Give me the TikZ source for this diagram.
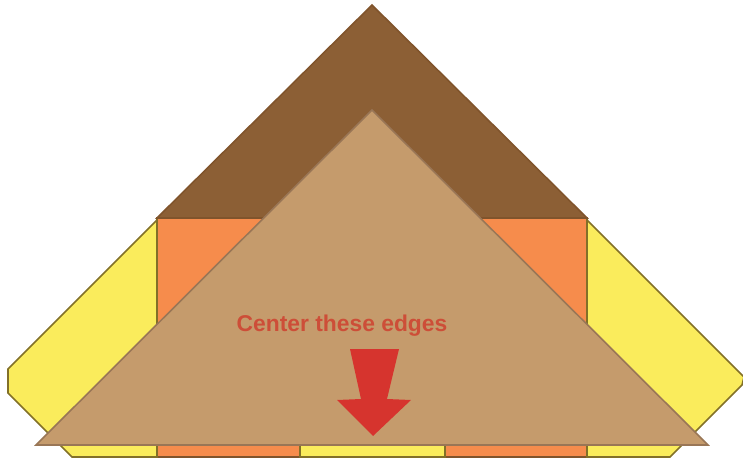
\documentclass[tikz,border=0pt]{standalone}
\usepackage{fontspec}
\setmainfont{Liberation Sans}
\definecolor{roofdark}{RGB}{140,95,53}
\definecolor{rooflight}{RGB}{197,155,108}
\definecolor{flaporange}{RGB}{246,140,76}
\definecolor{flapyellow}{RGB}{250,236,92}
\definecolor{foldedge}{RGB}{128,84,44}
\definecolor{flapedge}{RGB}{130,112,40}
\definecolor{arrowred}{RGB}{214,52,46}
\definecolor{labelred}{RGB}{205,78,56}

\begin{document}
\begin{tikzpicture}[x=0.02cm,y=-0.02cm,
    fold/.style={line width=.9pt,line join=miter},
    flap/.style={fold,fill=flapyellow,draw=flapedge}]
 \useasboundingbox (0,0) rectangle (743,469);
 \clip (0,0) rectangle (743,469);
 \coordinate (apex) at (372,5);
 \coordinate (eaveL) at (157,218);
 \coordinate (eaveR) at (587,218);
 \coordinate (peak) at (372,110);
 \coordinate (baseL) at (36,445);
 \coordinate (baseR) at (708,445);
 % back panel and side flaps
 \filldraw[fold,fill=flaporange,draw=foldedge] (eaveL) rectangle (587,457);
 \filldraw[flap] (157,220) -- (8,369) -- (8,393) -- (72,457) -- (157,457) -- cycle;
 \filldraw[flap] (587,220) -- (744,377) -- (742,385) -- (670,457) -- (587,457) -- cycle;
 \filldraw[flap] (300,440) rectangle (445,457);
 % roof triangles
 \filldraw[fold,fill=roofdark,draw=foldedge] (apex) -- (eaveR) -- (eaveL) -- cycle;
 \filldraw[fold,fill=rooflight,draw=foldedge!80] (peak) -- (baseR) -- (baseL) -- cycle;
 % label and arrow
 \node[anchor=base,text=labelred,font=\fontsize{13}{15}\selectfont\bfseries,
    inner sep=0pt] (hint) at (342,331) {Center these edges};
 \fill[arrowred] (350,349) -- (399,349) -- (387,399) -- (411,400)
    -- (373,436) -- (337,400) -- (361,399) -- cycle;
\end{tikzpicture}
\end{document}
